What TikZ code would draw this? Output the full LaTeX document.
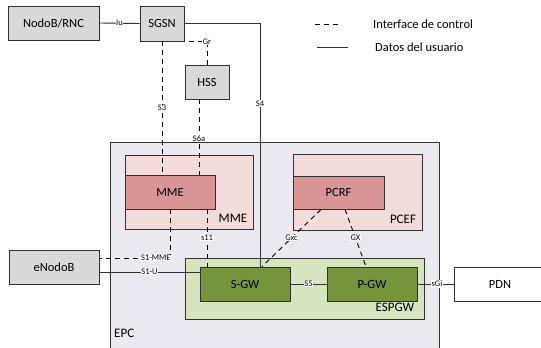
\documentclass[tikz,border=0pt]{standalone}
\usepackage{fontspec}
\setmainfont{Carlito}
\definecolor{boxgray}{HTML}{D9D9D9}
\definecolor{epcfill}{HTML}{EBE9F0}
\definecolor{pinklight}{HTML}{F2DCDB}
\definecolor{pinkdark}{HTML}{D99694}
\definecolor{greenlight}{HTML}{D7E4BD}
\definecolor{greendark}{HTML}{77933C}
\definecolor{edge}{HTML}{303030}
\tikzset{
  blk/.style={draw=edge, line width=0.9pt, minimum width=#1, inner sep=0pt, font=\fontsize{12.5}{14}\selectfont},
  graybox/.style={blk=#1, fill=boxgray, minimum height=34pt},
  cont/.style={draw=edge, line width=0.9pt},
  ctrl/.style={draw=black, line width=0.9pt, dash pattern=on 5pt off 4pt},
  data/.style={draw=black!80, line width=0.9pt},
  lbl/.style={fill=white, inner sep=0.6pt, font=\fontsize{8.5}{9}\selectfont},
  areatxt/.style={font=\fontsize{13}{14}\selectfont, inner sep=0pt}
}
\begin{document}
\begin{tikzpicture}[x=1pt,y=-1pt]
\useasboundingbox (0,0) rectangle (541,348);
\clip (0,0) rectangle (541,348);

% containers
\draw[cont, fill=epcfill] (110,142) rectangle (439,360);
\draw[cont, fill=pinklight] (125,155) rectangle (253,229);
\draw[cont, fill=pinklight] (293,154) rectangle (422,230);
\draw[cont, fill=greenlight] (185,258) rectangle (424,319);

\node[areatxt, anchor=west] (epclbl) at (114,333) {EPC};
\node[areatxt] (mmelbl) at (233,218) {MME};
\node[areatxt] (pceflbl) at (403,219) {PCEF};
\node[areatxt] (espgwlbl) at (395,307) {ESPGW};

% network elements
\node[graybox=91pt] (nodob) at (53.5,23) {NodoB/RNC};
\node[graybox=44pt, minimum height=35pt] (sgsn) at (162,23.5) {SGSN};
\node[graybox=44pt] (hss) at (207,82) {HSS};
\node[graybox=90pt] (enodob) at (54,267) {eNodoB};
\node[blk=90pt, fill=pinkdark, minimum height=34pt] (mme) at (170,192) {MME};
\node[blk=91pt, fill=pinkdark, minimum height=33pt] (pcrf) at (338.5,192.5) {PCRF};
\node[blk=90pt, fill=greendark, minimum height=34pt] (sgw) at (245,284) {S-GW};
\node[blk=90pt, fill=greendark, minimum height=34pt] (pgw) at (372,284) {P-GW};
\node[blk=92pt, fill=white, minimum height=34pt] (pdn) at (500,284) {PDN};

% user data interfaces
\draw[data] (nodob.east) -- node[lbl] {Iu} (sgsn.west);
\draw[data] (sgsn.east) -| (260,267) node[lbl, pos=0.665] {S4};
\draw[data] (enodob.east |- 0,272) -- node[lbl, pos=0.5] {S1-U} (sgw.west |- 0,272);
\draw[data] (sgw.east) -- node[lbl] {S5} (pgw.west);
\draw[data] (pgw.east) -- node[lbl, pos=0.54] {sGi} (pdn.west);

% control interfaces
\draw[ctrl] (sgsn.south) -- node[lbl, pos=0.5] {S3} (sgsn.south |- mme.north);
\draw[ctrl] (hss.north) |- node[lbl, pos=0.5] {Gr} (sgsn.south east);
\draw[ctrl] ([xshift=-8pt]hss.south) -- node[lbl, pos=0.52] {S6a} ([xshift=-8pt]hss.south |- mme.north);
\draw[ctrl] (mme.south) |- node[lbl, pos=0.6] {S1-MME} (enodob.east |- 0,258);
\draw[ctrl] (mme.south east -| 207,0) -- node[lbl] {s11} (sgw.north west -| 207,0);
\draw[ctrl] (pcrf.south -| 321,0) -- node[lbl] {Gxc} (sgw.north east -| 262,0);
\draw[ctrl] (pcrf.south -| 345,0) -- node[lbl] {GX} (pgw.north -| 366,0);

% legend
\coordinate (lgA) at (315,24);
\coordinate (lgB) at (340,24);
\coordinate (lgC) at (317,47);
\coordinate (lgD) at (348,47);
\draw[ctrl] (lgA) -- (lgB);
\draw[data] (lgC) -- (lgD);
\node[anchor=west, font=\fontsize{12.5}{14}\selectfont, inner sep=0pt] (lgctrl) at (373,24) {Interface de control};
\node[anchor=west, font=\fontsize{12.5}{14}\selectfont, inner sep=0pt] (lgdata) at (375,47) {Datos del usuario};
\end{tikzpicture}
\end{document}
